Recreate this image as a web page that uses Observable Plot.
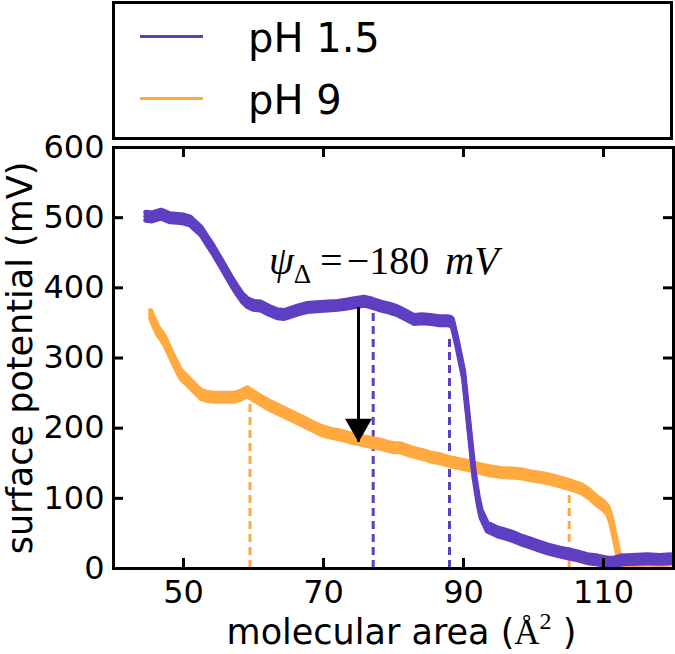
<!DOCTYPE html>
<html>
<head>
<meta charset="utf-8">
<script src="https://cdn.jsdelivr.net/npm/d3@7"></script>
<script src="https://cdn.jsdelivr.net/npm/@observablehq/plot@0.6"></script>
<style>
  body { margin: 0; background: #fff; font-family: "DejaVu Sans", sans-serif; }
  #wrap { position: relative; width: 675px; height: 654px; overflow: hidden; }
  #legend { position: absolute; left: 112px; top: 1px; width: 561px; height: 139px;
            box-sizing: border-box; border: 3px solid #000; background: #fff; z-index: 2; }
  .swatch { position: absolute; left: 25px; width: 63px; height: 3px; }
  .lab { position: absolute; left: 133px; font-size: 40px; line-height: 40px; white-space: nowrap; color: #000; }
  #chart { position: absolute; left: 0; top: 140px; width: 675px; }
</style>
</head>
<body>
<div id="wrap">
  <div id="legend"></div>
  <div id="chart"></div>
</div>
<script>
// ---------- data ----------
const seriesNames = ["pH 1.5", "pH 9"];
const seriesColors = ["#5f3fc1", "#ffa93f"];

// pH 1.5 (purple)
const phLowX = [44.6, 45.5, 46.8, 48.0, 49.2, 50.0, 51.0, 51.5, 52.5, 53.4, 54.2, 54.9, 55.6, 56.3, 57.0, 57.7, 58.4, 59.1, 60.0, 61.0, 62.2, 63.4, 64.4, 65.3, 66.5, 67.7, 69.0, 70.6, 72.0, 73.4, 74.6, 75.8, 77.0, 78.2, 79.4, 80.6, 81.8, 82.9, 84.1, 85.3, 86.5, 87.7, 88.2, 88.4, 88.7, 89.0, 89.5, 90.0, 90.5, 91.0, 91.5, 92.1, 92.5, 93.4, 94.9, 96.0, 97.2, 98.4, 99.6, 100.8, 102.0, 103.5, 104.9, 106.3, 107.7, 109.2, 110.6, 111.5, 112.5, 114.0, 116.3, 118.0, 119.6];
const phLowY = [502, 501, 505, 500, 499, 498, 495, 490, 481, 467, 455, 443, 431, 419, 407, 396, 386, 379, 375, 374, 368, 363, 362, 365, 369, 372, 373, 374, 375, 377, 379, 381, 378, 374, 371, 367, 361, 355, 356, 355, 353, 353, 352, 350, 338, 325, 301, 277, 230, 182, 135, 97, 78, 59, 52, 49, 45, 40, 36, 32, 28, 24, 21, 18, 14, 12, 9, 9, 12, 13, 14, 13, 14];

// pH 9 (orange)
const phHighX = [45.3, 45.8, 46.4, 47.3, 48.4, 49.6, 51.0, 52.5, 53.5, 54.4, 55.8, 57.2, 58.2, 59.1, 60.0, 61.0, 62.4, 63.9, 65.3, 66.8, 68.2, 69.6, 71.0, 72.5, 73.9, 75.3, 76.7, 78.2, 79.2, 80.1, 81.0, 82.4, 83.9, 85.3, 86.8, 88.2, 89.6, 91.0, 92.5, 93.9, 95.3, 96.8, 98.2, 99.6, 101.0, 102.5, 103.9, 105.3, 106.8, 108.0, 109.1, 110.0, 110.6, 111.0, 111.3, 111.8, 112.2, 112.9, 114.0, 116.3, 118.0, 119.6];
const phHighY = [362, 350, 338, 325, 301, 277, 263, 248, 245, 244, 244, 244, 247, 252, 246, 240, 232, 225, 218, 211, 204, 197, 193, 190, 186, 183, 180, 177, 174, 172, 172, 167, 163, 159, 156, 152, 149, 146, 142, 139, 137, 136, 135, 132, 130, 127, 123, 119, 114, 106, 96, 90, 83, 72, 59, 36, 16, 9, 10, 12, 11, 12];

// dashed marker lines: x position, top value, series index
const markerX = [59.5, 77.1, 88.0, 105.1];
const markerTop = [235, 365, 330, 108];
const markerSeries = [1, 0, 0, 1];

// arrow annotation
const arrowX = 75;
const arrowFrom = 372;
const arrowTo = 180;
const annotationParts = ["ψ", "Δ", "=", "−180", "mV"];
const annotationX = 62.2;
const annotationY = 438;

// axes
const xDomain = [40, 120];
const yDomain = [0, 600];
const xTicks = [50, 70, 90, 110];
const yTicks = [0, 100, 200, 300, 400, 500, 600];
const xLabelParts = ["molecular area (", "Å", "2", " )"];
const yLabel = "surface potential (mV)";

// ---------- legend ----------
const legend = document.getElementById("legend");
const legendLineTop = [30.5, 92.8];
const legendTextTop = [14, 76];
seriesNames.forEach((name, i) => {
  const sw = document.createElement("div");
  sw.className = "swatch";
  sw.style.top = legendLineTop[i] + "px";
  sw.style.background = seriesColors[i];
  legend.appendChild(sw);
  const lb = document.createElement("div");
  lb.className = "lab";
  lb.style.top = legendTextTop[i] + "px";
  lb.textContent = name;
  legend.appendChild(lb);
});

// ---------- chart ----------
const W = 675, H = 514, mT = 7, mB = 86, mL = 113, mR = 2, TICK = 10;
const frameH = H - mT - mB, frameW = W - mL - mR;
const tickStyle = {stroke: "black", strokeWidth: 3};

const series = [
  phLowX.map((x, i) => ({x, y: phLowY[i]})),
  phHighX.map((x, i) => ({x, y: phHighY[i]}))
];
const markers = markerX.map((x, i) => ({x, top: markerTop[i], s: markerSeries[i]}));

function bandLines(data, color) {
  return [-4, 0, 4].map(dy => Plot.line(data, {x: "x", y: "y", stroke: color, strokeWidth: 5, dy}));
}

const svg = Plot.plot({
  width: W,
  height: H,
  marginTop: mT,
  marginBottom: mB,
  marginLeft: mL,
  marginRight: mR,
  style: {fontFamily: "DejaVu Sans, sans-serif", overflow: "visible"},
  x: {domain: xDomain, axis: null},
  y: {domain: yDomain, axis: null},
  marks: [
    ...[1, 0].map(s => Plot.ruleX(markers.filter(d => d.s === s), {x: "x", y1: 0, y2: "top", stroke: seriesColors[s], strokeWidth: 3, strokeDasharray: "8,5"})),
    ...bandLines(series[1], seriesColors[1]),
    ...bandLines(series[0], seriesColors[0]),
    Plot.ruleX([arrowX], {x: d => d, y1: arrowFrom, y2: arrowTo, stroke: "black", strokeWidth: 3}),
    Plot.dot([arrowX], {x: d => d, y: arrowTo, symbol: "triangle", rotate: 180, r: 10, fill: "black", stroke: "none", dy: -15.6}),
    Plot.text([annotationParts.join("")], {x: annotationX, y: annotationY, text: d => d, textAnchor: "start", fontSize: 40, fontFamily: "Liberation Serif, serif", fill: "black"}),
    // inward ticks on all four sides
    Plot.tickX(xTicks, {x: d => d, insetTop: frameH - TICK, ...tickStyle}),
    Plot.tickX(xTicks, {x: d => d, insetBottom: frameH - TICK, ...tickStyle}),
    Plot.tickY(yTicks, {y: d => d, insetRight: frameW - TICK, ...tickStyle}),
    Plot.tickY(yTicks, {y: d => d, insetLeft: frameW - TICK, ...tickStyle}),
    Plot.frame({stroke: "black", strokeWidth: 3}),
    Plot.axisX(xTicks, {anchor: "bottom", tickSize: 0, tickPadding: 12, fontSize: 32, label: null}),
    Plot.axisY(yTicks, {anchor: "left", tickSize: 0, tickPadding: 9, fontSize: 32, label: null}),
    Plot.text([xLabelParts.join("")], {frameAnchor: "bottom", text: d => d, textAnchor: "middle", dx: 8, dy: 75, fontSize: 35, fill: "black"}),
    Plot.text([yLabel], {frameAnchor: "left", text: d => d, textAnchor: "middle", rotate: -90, dx: -93, fontSize: 35, fill: "black"})
  ]
});
document.getElementById("chart").appendChild(svg);

// rich text (sub/superscripts) for annotation and x label
function findText(str) {
  return Array.from(svg.querySelectorAll("text")).find(t => t.textContent === str);
}
function setParts(textEl, parts) {
  if (!textEl) return;
  textEl.textContent = "";
  for (const p of parts) {
    const t = document.createElementNS("http://www.w3.org/2000/svg", "tspan");
    t.textContent = p.t;
    for (const [k, v] of Object.entries(p.a || {})) t.setAttribute(k, String(v));
    textEl.appendChild(t);
  }
}
setParts(findText(annotationParts.join("")), [
  {t: annotationParts[0], a: {"font-style": "italic"}},
  {t: annotationParts[1], a: {"font-size": 27, dy: 9}},
  {t: annotationParts[2], a: {dy: -9, dx: 9}},
  {t: annotationParts[3], a: {dx: 4}},
  {t: annotationParts[4], a: {"font-style": "italic", dx: 16}}
]);
setParts(findText(xLabelParts.join("")), [
  {t: xLabelParts[0]},
  {t: xLabelParts[1], a: {"font-family": "Liberation Serif, serif"}},
  {t: xLabelParts[2], a: {"font-family": "Liberation Serif, serif", "font-size": 24, dy: -15}},
  {t: xLabelParts[3], a: {dy: 15}}
]);
</script>
</body>
</html>
